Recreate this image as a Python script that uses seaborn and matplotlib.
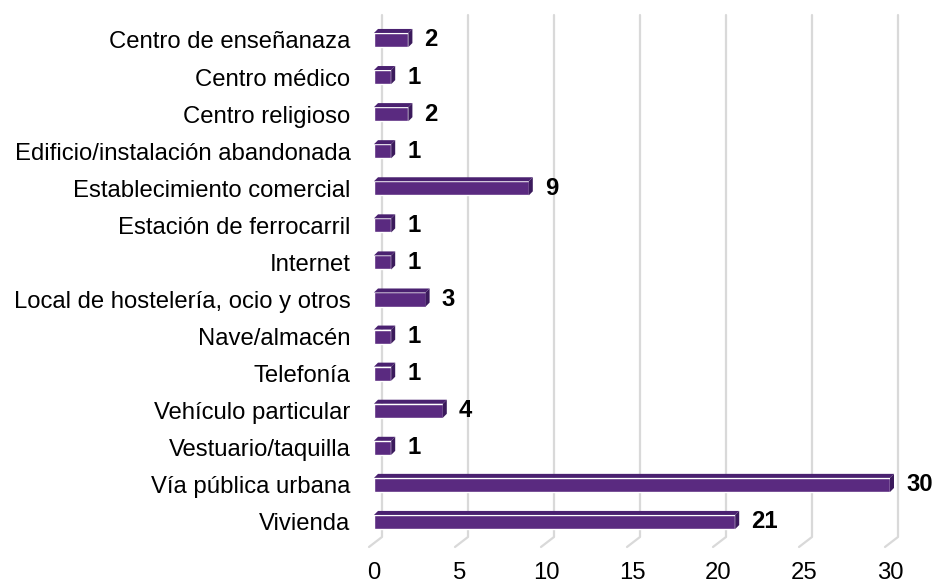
import numpy as np
import pandas as pd
import seaborn as sns
import matplotlib.pyplot as plt
from matplotlib.patches import Polygon
from matplotlib.transforms import IdentityTransform

# Données
lugares = ['Centro de enseñanaza', 'Centro médico', 'Centro religioso',
           'Edificio/instalación abandonada', 'Establecimiento comercial',
           'Estación de ferrocarril', 'Internet', 'Local de hostelería, ocio y otros',
           'Nave/almacén', 'Telefonía', 'Vehículo particular', 'Vestuario/taquilla',
           'Vía pública urbana', 'Vivienda']
valores = [2, 1, 2, 1, 9, 1, 1, 3, 1, 1, 4, 1, 30, 21]
x_ticks = [0, 5, 10, 15, 20, 25, 30]

df = pd.DataFrame({'Lugar': lugares, 'Valor': valores})

sns.set_style('white')
plt.rcParams['font.family'] = ['Liberation Sans', 'DejaVu Sans']

col_front = '#5a2a80'
col_top = '#4a2170'
col_side = '#3b1a5c'
col_grid = '#d9d9d9'
fs = 17.2

fig = plt.figure(figsize=(9.33, 5.84), dpi=100)
ax = fig.add_axes([374 / 933, 0.0634, 516 / 933, 0.9109])

sns.barplot(data=df, y='Lugar', x='Valor', orient='h', color=col_front,
            width=0.38, saturation=1, ax=ax, zorder=3)

ax.set_xlim(0, 30)
ax.set_ylim(13.674, -0.674)
for s in ax.spines.values():
    s.set_visible(False)
ax.set_xlabel('')
ax.set_ylabel('')
ax.set_xticks(x_ticks)
ax.set_xticklabels([str(t) for t in x_ticks], fontsize=fs)
ax.tick_params(axis='x', length=0, pad=10.5, labelcolor='black')
ax.tick_params(axis='y', length=0, pad=17, labelsize=fs, labelcolor='black')

fig.canvas.draw()

# Parois du fond et sol (effet 3D)
back_dx, front_dx, floor_dy = 8, -5, 10
x0_pix, y_bot = ax.transAxes.transform((0, 0))
_, y_top = ax.transAxes.transform((0, 1))
for t in x_ticks:
    xp = ax.transData.transform((t, 0))[0]
    ax.add_line(plt.Line2D([xp + back_dx, xp + back_dx, xp + front_dx],
                           [y_top, y_bot + floor_dy, y_bot],
                           transform=IdentityTransform(), color=col_grid,
                           lw=1.6, zorder=1, clip_on=False))

# Faces supérieures et latérales des barres
dep = 4
for p in ax.patches:
    (x0, y0) = ax.transData.transform((p.get_x(), p.get_y()))
    (x1, y1) = ax.transData.transform((p.get_x() + p.get_width(), p.get_y() + p.get_height()))
    ytop = max(y0, y1)
    ybot = min(y0, y1)
    top = Polygon([[x0, ytop], [x1, ytop], [x1 + dep, ytop + dep], [x0 + dep, ytop + dep]],
                  closed=True, transform=IdentityTransform(), facecolor=col_top,
                  edgecolor='none', zorder=4, clip_on=False)
    side = Polygon([[x1, ybot], [x1 + dep, ybot + dep], [x1 + dep, ytop + dep], [x1, ytop]],
                   closed=True, transform=IdentityTransform(), facecolor=col_side,
                   edgecolor='none', zorder=4, clip_on=False)
    ax.add_patch(top)
    ax.add_patch(side)

# Étiquettes de valeurs
for i, v in enumerate(valores):
    ax.annotate(str(v), xy=(v, i), xytext=(11.5, 0), textcoords='offset points',
                va='center', ha='left', fontsize=fs, fontweight='bold', color='black',
                annotation_clip=False)

fig.savefig('out.png', dpi=100)
